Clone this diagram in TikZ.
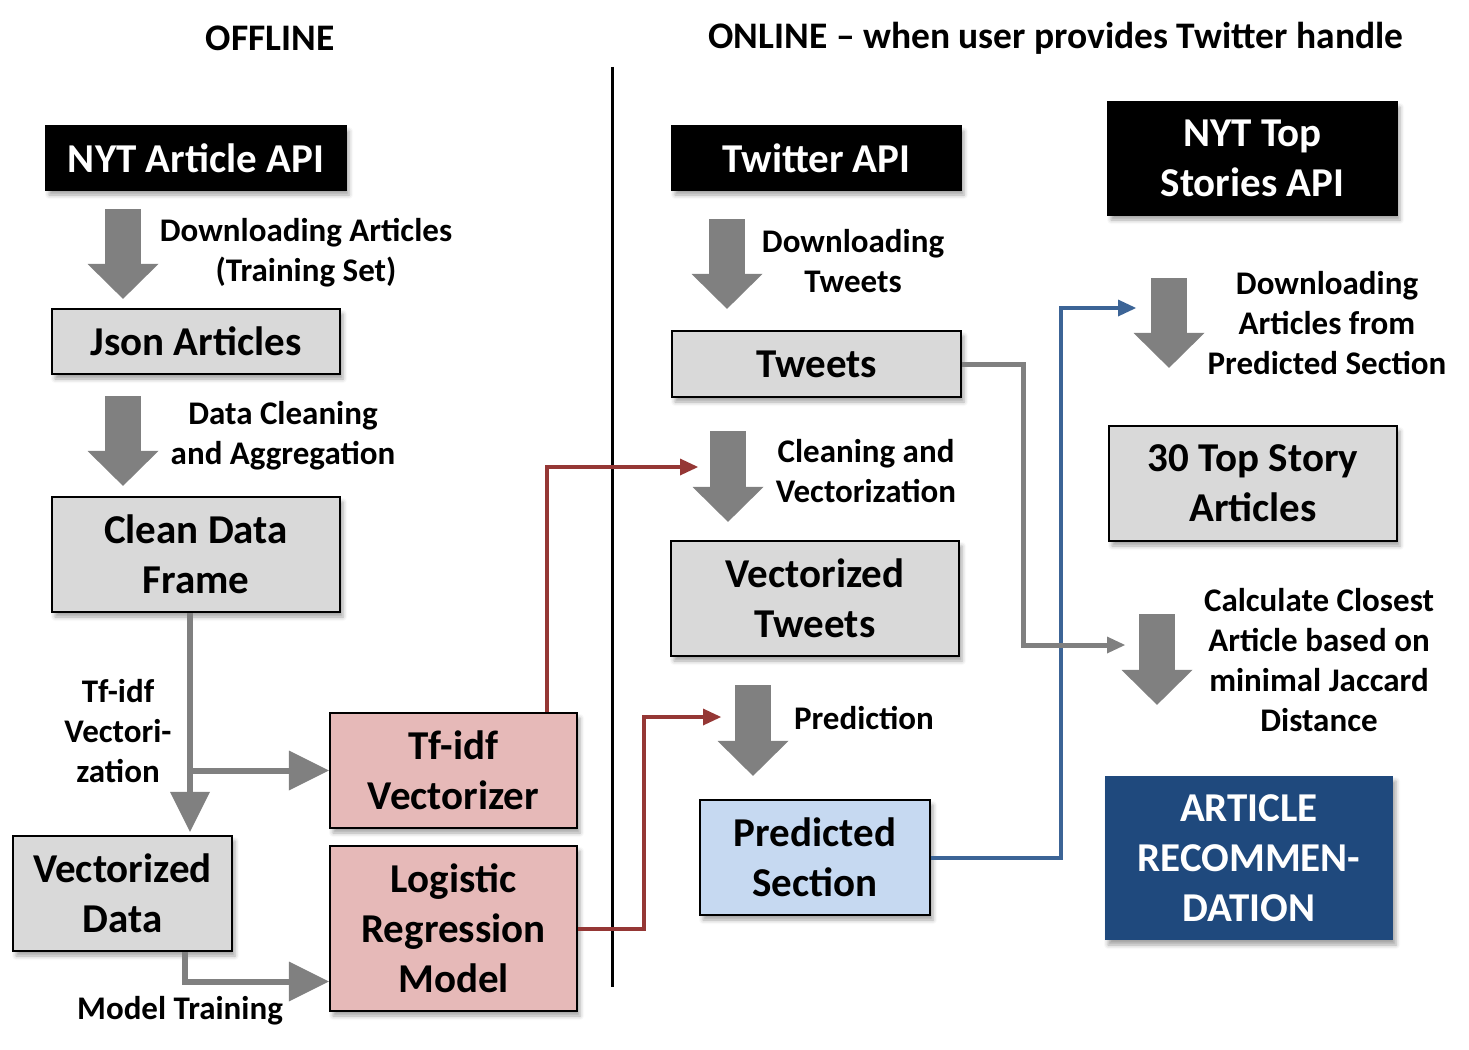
\documentclass[tikz,border=0pt]{standalone}
\usepackage{fontspec}
\setmainfont{Carlito}
\usepackage{xcolor}
\usetikzlibrary{positioning,calc,arrows.meta,shadows.blur}

\definecolor{boxgray}{HTML}{D9D9D9}
\definecolor{boxpink}{HTML}{E6B9B8}
\definecolor{boxblue}{HTML}{C6D9F1}
\definecolor{recblue}{HTML}{1F497D}
\definecolor{arrowgray}{HTML}{808080}
\definecolor{linered}{HTML}{953735}
\definecolor{lineblue}{HTML}{3C6496}

\begin{document}
\begin{tikzpicture}[x=1pt,y=-1pt,
    box/.style={draw=black, line width=2.2pt, fill=boxgray, align=center, inner sep=0pt,
        font=\fontsize{41}{50}\selectfont\bfseries,
        blur shadow={shadow xshift=3pt, shadow yshift=-5pt, shadow blur radius=4pt, shadow opacity=35}},
    apibox/.style={box, fill=black, text=white},
    lbl/.style={align=center, inner sep=0pt, font=\fontsize{33}{40}\selectfont\bfseries},
    title/.style={font=\fontsize{37.5}{40}\selectfont\bfseries},
    blockarr/.style={draw=arrowgray, line width=36pt, -{Triangle[width=71pt,length=35pt,line width=0pt]}},
    grayline/.style={draw=arrowgray, line width=6pt},
    redline/.style={draw=linered, line width=4pt, -{Triangle[width=17pt,length=18pt,line width=0pt]}},
    blueline/.style={draw=lineblue, line width=4pt, -{Triangle[width=17pt,length=18pt,line width=0pt]}}]
    \useasboundingbox (0,0) rectangle (1469,1049);

    % Titles
    \node[title] (offtitle) at (270,38) {OFFLINE};
    \node[title] (ontitle) at (1056,38) {ONLINE -- when user provides Twitter handle};
    \draw[line width=3pt] (612,67) -- (612,987);

    % Offline part
    \node[apibox, minimum width=300, minimum height=64] (nyt) at (196,158) {NYT Article API};
    \node[box, minimum width=288, minimum height=65] (json) at (196,341.5) {Json Articles};
    \node[box, minimum width=288, minimum height=115] (clean) at (196,554.5) {Clean Data\\Frame};
    \node[box, minimum width=219, minimum height=115] (vecdata) at (122.5,893.5) {Vectorized\\Data};
    \node[box, fill=boxpink, minimum width=247, minimum height=115] (tfidf) at (453.5,770.5) {Tf-idf\\Vectorizer};
    \node[box, fill=boxpink, minimum width=247, minimum height=165] (logreg) at (453.5,928.5) {Logistic\\Regression\\Model};

    \draw[blockarr] ([xshift=-73pt,yshift=-18pt]nyt.south) -- ([xshift=-73pt,yshift=9pt]json.north);
    \node[lbl] (dlart) at (306,253) {Downloading Articles\\(Training Set)};
    \draw[blockarr] ([xshift=-73pt,yshift=-21pt]json.south) -- ([xshift=-73pt,yshift=10pt]clean.north);
    \node[lbl] (cleaning) at (283,436) {Data Cleaning\\and Aggregation};

    \coordinate (split) at ([xshift=-6pt]clean.south);
    \draw[grayline, -{Triangle[width=40pt,length=40pt,line width=0pt]}] (split) -- ([yshift=3pt]split |- vecdata.north);
    \draw[grayline, -{Triangle[width=40pt,length=40pt,line width=0pt]}] (split |- tfidf.west) -- (tfidf.west);
    \node[lbl] (tfvec) at (118,731) {Tf-idf\\Vectori-\\zation};
    \coordinate (vdout) at ([xshift=62pt]vecdata.south);
    \draw[grayline, -{Triangle[width=40pt,length=40pt,line width=0pt]}] (vdout) |- ([yshift=-53pt]logreg.west);
    \node[lbl] (training) at (180,1011) {Model Training};

    % Online part
    \node[apibox, minimum width=289, minimum height=64] (twapi) at (816.5,158) {Twitter API};
    \node[box, minimum width=289, minimum height=66] (tweets) at (816.5,364) {Tweets};
    \node[box, minimum width=288, minimum height=115] (vectw) at (815,598.5) {Vectorized\\Tweets};
    \node[box, fill=boxblue, minimum width=230, minimum height=115] (predsec) at (815,857.5) {Predicted\\Section};

    \draw[blockarr] ([xshift=-89.5pt,yshift=-28pt]twapi.south) -- ([xshift=-89.5pt,yshift=21pt]tweets.north);
    \node[lbl] (dltw) at (853,261) {Downloading\\Tweets};
    \draw[blockarr] ([xshift=-88.5pt,yshift=-33pt]tweets.south) -- ([xshift=-87pt,yshift=18pt]vectw.north);
    \node[lbl] (cleanvec) at (866,471) {Cleaning and\\Vectorization};
    \draw[blockarr] ([xshift=-62pt,yshift=-28pt]vectw.south) -- ([xshift=-62pt,yshift=23pt]predsec.north);
    \node[lbl] (predict) at (864,718) {Prediction};

    \node[apibox, minimum width=289, minimum height=113] (topapi) at (1252.5,158.5) {NYT Top\\Stories API};
    \node[box, minimum width=288, minimum height=115] (top30) at (1253,483.5) {30 Top Story\\Articles};
    \node[box, fill=recblue, draw=none, text=white, minimum width=288, minimum height=164] (rec) at (1249,858) {ARTICLE\\RECOMMEN-\\DATION};

    \draw[blockarr] ([xshift=-83.5pt,yshift=-62pt]topapi.south) -- ([xshift=-84pt,yshift=57pt]top30.north);
    \node[lbl] (dlsec) at (1327,323) {Downloading\\Articles from\\Predicted Section};
    \draw[blockarr] ([xshift=-96pt,yshift=-72pt]top30.south) -- ([xshift=-92pt,yshift=70pt]rec.north);
    \node[lbl] (closest) at (1319,660) {Calculate Closest\\Article based on\\minimal Jaccard\\Distance};

    % Cross links
    \coordinate (cleanin) at (698,467);
    \coordinate (predin) at (721,717);
    \coordinate (downin) at (1136,308);
    \coordinate (simin) at (1125,645);
    \coordinate (tfout) at ([xshift=93.5pt]tfidf.north);
    \draw[redline] (tfout) |- (cleanin);
    \draw[redline] (logreg.east) -- ++(66,0) |- (predin);
    \draw[blueline] (predsec.east) -- ++(130,0) |- (downin);
    \draw[grayline, line width=5pt, -{Triangle[width=17pt,length=18pt,line width=0pt]}] (tweets.east) -- ++(61,0) |- (simin);
\end{tikzpicture}
\end{document}
